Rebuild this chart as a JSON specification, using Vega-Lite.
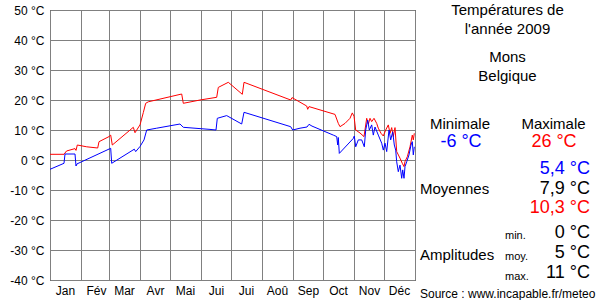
{
  "$schema": "https://vega.github.io/schema/vega-lite/v6.json",
  "autosize": "none",
  "padding": {"left": 50, "top": 10, "right": 185, "bottom": 20},
  "width": 365,
  "height": 270,
  "background": "white",
  "config": {
    "font": "Liberation Sans",
    "view": {"stroke": "black", "strokeWidth": 1},
    "axis": {"gridColor": "#808080", "gridOpacity": 1, "gridWidth": 1, "ticks": false, "domain": false, "labelColor": "black", "labelFontSize": 12, "labelFont": "Liberation Sans", "title": null, "labelOverlap": false, "labelFlush": false, "labelBound": false}
  },
  "layer": [
    {
      "data": {
        "values": [
          {"d": 0, "t": 1.9, "s": "max"}, {"d": 14, "t": 1.9, "s": "max"}, {"d": 16.5, "t": 3.0, "s": "max"}, {"d": 25, "t": 3.8, "s": "max"}, {"d": 26, "t": 3.2, "s": "max"}, {"d": 27.3, "t": 5.0, "s": "max"}, {"d": 36.7, "t": 4.4, "s": "max"}, {"d": 47.7, "t": 4.0, "s": "max"}, {"d": 49, "t": 6.1, "s": "max"}, {"d": 59, "t": 7.8, "s": "max"}, {"d": 60.7, "t": 8.3, "s": "max"}, {"d": 62.3, "t": 5.0, "s": "max"}, {"d": 83.3, "t": 10.9, "s": "max"}, {"d": 85, "t": 9.1, "s": "max"}, {"d": 90, "t": 11.7, "s": "max"}, {"d": 93.3, "t": 15.8, "s": "max"}, {"d": 95.7, "t": 18.9, "s": "max"}, {"d": 98.3, "t": 19.4, "s": "max"}, {"d": 131.7, "t": 22.0, "s": "max"}, {"d": 133.3, "t": 18.9, "s": "max"}, {"d": 150, "t": 20.0, "s": "max"}, {"d": 166.7, "t": 20.9, "s": "max"}, {"d": 168.3, "t": 24.2, "s": "max"}, {"d": 178.3, "t": 25.9, "s": "max"}, {"d": 192.3, "t": 21.9, "s": "max"}, {"d": 194, "t": 25.9, "s": "max"}, {"d": 240.7, "t": 20.0, "s": "max"}, {"d": 242, "t": 20.8, "s": "max"}, {"d": 256.7, "t": 18.0, "s": "max"}, {"d": 257.7, "t": 16.9, "s": "max"}, {"d": 259, "t": 17.8, "s": "max"}, {"d": 285, "t": 15.2, "s": "max"}, {"d": 288.3, "t": 12.2, "s": "max"}, {"d": 290, "t": 11.1, "s": "max"}, {"d": 295, "t": 12.2, "s": "max"}, {"d": 300, "t": 13.9, "s": "max"}, {"d": 302.3, "t": 15.7, "s": "max"}, {"d": 304, "t": 14.6, "s": "max"}, {"d": 305.7, "t": 10.0, "s": "max"}, {"d": 310, "t": 9.0, "s": "max"}, {"d": 314, "t": 7.8, "s": "max"}, {"d": 316.7, "t": 13.9, "s": "max"}, {"d": 318.3, "t": 12.0, "s": "max"}, {"d": 320, "t": 13.9, "s": "max"}, {"d": 321.7, "t": 12.8, "s": "max"}, {"d": 324, "t": 13.9, "s": "max"}, {"d": 326.7, "t": 12.2, "s": "max"}, {"d": 328.3, "t": 10.6, "s": "max"}, {"d": 331, "t": 8.9, "s": "max"}, {"d": 333.3, "t": 8.0, "s": "max"}, {"d": 335.7, "t": 10.0, "s": "max"}, {"d": 338.3, "t": 11.7, "s": "max"}, {"d": 340, "t": 8.9, "s": "max"}, {"d": 341.7, "t": 10.8, "s": "max"}, {"d": 343.3, "t": 7.8, "s": "max"}, {"d": 345, "t": 10.8, "s": "max"}, {"d": 346.7, "t": 2.8, "s": "max"}, {"d": 350, "t": 0.6, "s": "max"}, {"d": 352.3, "t": -1.1, "s": "max"}, {"d": 354, "t": -2.2, "s": "max"}, {"d": 355, "t": -0.5, "s": "max"}, {"d": 357.3, "t": 1.1, "s": "max"}, {"d": 360, "t": 4.4, "s": "max"}, {"d": 362.3, "t": 8.3, "s": "max"}, {"d": 363.3, "t": 6.7, "s": "max"}, {"d": 364.3, "t": 8.9, "s": "max"},
          {"d": 0, "t": -3.1, "s": "min"}, {"d": 14, "t": -1.1, "s": "min"}, {"d": 15, "t": 2.0, "s": "min"}, {"d": 25, "t": 2.0, "s": "min"}, {"d": 26, "t": -2.0, "s": "min"}, {"d": 27, "t": -1.3, "s": "min"}, {"d": 60.7, "t": 3.9, "s": "min"}, {"d": 61.7, "t": -1.1, "s": "min"}, {"d": 84.3, "t": 3.6, "s": "min"}, {"d": 85.7, "t": 2.8, "s": "min"}, {"d": 90, "t": 4.5, "s": "min"}, {"d": 94, "t": 6.7, "s": "min"}, {"d": 96.7, "t": 10.0, "s": "min"}, {"d": 106.7, "t": 10.6, "s": "min"}, {"d": 130, "t": 12.0, "s": "min"}, {"d": 133.3, "t": 10.9, "s": "min"}, {"d": 160, "t": 10.2, "s": "min"}, {"d": 166, "t": 10.0, "s": "min"}, {"d": 167.3, "t": 13.9, "s": "min"}, {"d": 176.7, "t": 14.8, "s": "min"}, {"d": 191.7, "t": 12.0, "s": "min"}, {"d": 194, "t": 15.9, "s": "min"}, {"d": 240.7, "t": 11.1, "s": "min"}, {"d": 242.7, "t": 10.0, "s": "min"}, {"d": 250, "t": 10.6, "s": "min"}, {"d": 257, "t": 11.0, "s": "min"}, {"d": 259, "t": 11.9, "s": "min"}, {"d": 262, "t": 11.3, "s": "min"}, {"d": 283.3, "t": 8.3, "s": "min"}, {"d": 286.7, "t": 7.8, "s": "min"}, {"d": 287.7, "t": 5.0, "s": "min"}, {"d": 288.3, "t": 7.5, "s": "min"}, {"d": 289.3, "t": 2.2, "s": "min"}, {"d": 303.3, "t": 7.2, "s": "min"}, {"d": 304.3, "t": 8.0, "s": "min"}, {"d": 305.7, "t": 4.4, "s": "min"}, {"d": 308.3, "t": 6.7, "s": "min"}, {"d": 311.7, "t": 6.7, "s": "min"}, {"d": 314.3, "t": 4.4, "s": "min"}, {"d": 315.7, "t": 10.0, "s": "min"}, {"d": 317.7, "t": 13.3, "s": "min"}, {"d": 319.3, "t": 10.0, "s": "min"}, {"d": 321.7, "t": 11.7, "s": "min"}, {"d": 323.3, "t": 8.3, "s": "min"}, {"d": 325, "t": 11.0, "s": "min"}, {"d": 328.3, "t": 8.3, "s": "min"}, {"d": 331.7, "t": 5.6, "s": "min"}, {"d": 333.3, "t": 3.3, "s": "min"}, {"d": 335, "t": 5.6, "s": "min"}, {"d": 336.7, "t": 2.8, "s": "min"}, {"d": 339, "t": 10.0, "s": "min"}, {"d": 340.7, "t": 6.7, "s": "min"}, {"d": 342.7, "t": 9.4, "s": "min"}, {"d": 344.3, "t": 5.0, "s": "min"}, {"d": 345.7, "t": 3.3, "s": "min"}, {"d": 346.7, "t": -0.6, "s": "min"}, {"d": 348.3, "t": -3.9, "s": "min"}, {"d": 350, "t": -1.7, "s": "min"}, {"d": 351.7, "t": -6.1, "s": "min"}, {"d": 352.7, "t": -3.3, "s": "min"}, {"d": 354, "t": -6.1, "s": "min"}, {"d": 355, "t": -2.2, "s": "min"}, {"d": 356.7, "t": -0.6, "s": "min"}, {"d": 359, "t": 1.7, "s": "min"}, {"d": 361, "t": 5.0, "s": "min"}, {"d": 362.3, "t": 6.1, "s": "min"}, {"d": 363.3, "t": 1.7, "s": "min"}, {"d": 364.3, "t": 4.4, "s": "min"}
        ]
      },
      "mark": {"type": "line", "strokeWidth": 1, "clip": true},
      "encoding": {
        "x": {
          "field": "d", "type": "quantitative",
          "scale": {"domain": [0, 365], "nice": false, "zero": false},
          "axis": {
            "values": [0, 31, 59, 90, 120, 151, 181, 212, 243, 273, 304, 334, 365],
            "tickCount": 30,
            "labelExpr": "['Jan','Fév','Mar','Avr','Mai','Jui','Jui','Aoû','Sep','Oct','Nov','Déc',''][indexof([0,31,59,90,120,151,181,212,243,273,304,334,365], datum.value)]",
            "labelOffset": 15, "labelAlign": "center", "labelPadding": 5, "labelOverlap": false
          }
        },
        "y": {
          "field": "t", "type": "quantitative",
          "scale": {"domain": [-40, 50], "nice": false, "zero": false},
          "axis": {
            "values": [-40, -30, -20, -10, 0, 10, 20, 30, 40, 50],
            "tickCount": 30,
            "labelExpr": "datum.value + ' °C'", "labelPadding": 6, "labelOverlap": false
          }
        },
        "color": {"field": "s", "type": "nominal", "scale": {"domain": ["max", "min"], "range": ["#ff0000", "#0000ff"]}, "legend": null}
      }
    },
    {"data": {"values": [{"label": "Températures de"}]}, "mark": {"type": "text", "fontSize": 15, "align": "center", "baseline": "middle", "color": "black"}, "encoding": {"x": {"datum": 457.5}, "y": {"datum": 50}, "text": {"field": "label"}}},
    {"data": {"values": [{"label": "l'année 2009"}]}, "mark": {"type": "text", "fontSize": 15, "align": "center", "baseline": "middle", "color": "black"}, "encoding": {"x": {"datum": 457.5}, "y": {"datum": 43.7}, "text": {"field": "label"}}},
    {"data": {"values": [{"label": "Mons"}]}, "mark": {"type": "text", "fontSize": 15, "align": "center", "baseline": "middle", "color": "black"}, "encoding": {"x": {"datum": 457.5}, "y": {"datum": 34.5}, "text": {"field": "label"}}},
    {"data": {"values": [{"label": "Belgique"}]}, "mark": {"type": "text", "fontSize": 15, "align": "center", "baseline": "middle", "color": "black"}, "encoding": {"x": {"datum": 457.5}, "y": {"datum": 28}, "text": {"field": "label"}}},
    {"data": {"values": [{"label": "Minimale"}]}, "mark": {"type": "text", "fontSize": 15, "align": "center", "baseline": "middle", "color": "black"}, "encoding": {"x": {"datum": 410}, "y": {"datum": 12}, "text": {"field": "label"}}},
    {"data": {"values": [{"label": "Maximale"}]}, "mark": {"type": "text", "fontSize": 15, "align": "center", "baseline": "middle", "color": "black"}, "encoding": {"x": {"datum": 503.5}, "y": {"datum": 12}, "text": {"field": "label"}}},
    {"data": {"values": [{"label": "-6 °C"}]}, "mark": {"type": "text", "fontSize": 18, "align": "center", "baseline": "middle", "color": "#0000ff"}, "encoding": {"x": {"datum": 411}, "y": {"datum": 6}, "text": {"field": "label"}}},
    {"data": {"values": [{"label": "26 °C"}]}, "mark": {"type": "text", "fontSize": 18, "align": "center", "baseline": "middle", "color": "#ff0000"}, "encoding": {"x": {"datum": 504}, "y": {"datum": 6}, "text": {"field": "label"}}},
    {"data": {"values": [{"label": "5,4 °C"}]}, "mark": {"type": "text", "fontSize": 18, "align": "right", "baseline": "middle", "color": "#0000ff"}, "encoding": {"x": {"datum": 540}, "y": {"datum": -3}, "text": {"field": "label"}}},
    {"data": {"values": [{"label": "Moyennes"}]}, "mark": {"type": "text", "fontSize": 15, "align": "left", "baseline": "middle", "color": "black"}, "encoding": {"x": {"datum": 370}, "y": {"datum": -9.7}, "text": {"field": "label"}}},
    {"data": {"values": [{"label": "7,9 °C"}]}, "mark": {"type": "text", "fontSize": 18, "align": "right", "baseline": "middle", "color": "black"}, "encoding": {"x": {"datum": 540}, "y": {"datum": -9.7}, "text": {"field": "label"}}},
    {"data": {"values": [{"label": "10,3 °C"}]}, "mark": {"type": "text", "fontSize": 18, "align": "right", "baseline": "middle", "color": "#ff0000"}, "encoding": {"x": {"datum": 540}, "y": {"datum": -16}, "text": {"field": "label"}}},
    {"data": {"values": [{"label": "min."}]}, "mark": {"type": "text", "fontSize": 11, "align": "left", "baseline": "middle", "color": "black"}, "encoding": {"x": {"datum": 455}, "y": {"datum": -25.3}, "text": {"field": "label"}}},
    {"data": {"values": [{"label": "0 °C"}]}, "mark": {"type": "text", "fontSize": 18, "align": "right", "baseline": "middle", "color": "black"}, "encoding": {"x": {"datum": 540}, "y": {"datum": -24.3}, "text": {"field": "label"}}},
    {"data": {"values": [{"label": "Amplitudes"}]}, "mark": {"type": "text", "fontSize": 15, "align": "left", "baseline": "middle", "color": "black"}, "encoding": {"x": {"datum": 370}, "y": {"datum": -31.7}, "text": {"field": "label"}}},
    {"data": {"values": [{"label": "moy."}]}, "mark": {"type": "text", "fontSize": 11, "align": "left", "baseline": "middle", "color": "black"}, "encoding": {"x": {"datum": 455}, "y": {"datum": -32.3}, "text": {"field": "label"}}},
    {"data": {"values": [{"label": "5 °C"}]}, "mark": {"type": "text", "fontSize": 18, "align": "right", "baseline": "middle", "color": "black"}, "encoding": {"x": {"datum": 540}, "y": {"datum": -31}, "text": {"field": "label"}}},
    {"data": {"values": [{"label": "max."}]}, "mark": {"type": "text", "fontSize": 11, "align": "left", "baseline": "middle", "color": "black"}, "encoding": {"x": {"datum": 455}, "y": {"datum": -39}, "text": {"field": "label"}}},
    {"data": {"values": [{"label": "11 °C"}]}, "mark": {"type": "text", "fontSize": 18, "align": "right", "baseline": "middle", "color": "black"}, "encoding": {"x": {"datum": 540}, "y": {"datum": -37.7}, "text": {"field": "label"}}},
    {"data": {"values": [{"label": "Source : www.incapable.fr/meteo"}]}, "mark": {"type": "text", "fontSize": 12, "align": "left", "baseline": "middle", "color": "black"}, "encoding": {"x": {"datum": 370}, "y": {"datum": -44.7}, "text": {"field": "label"}}}
  ]
}
